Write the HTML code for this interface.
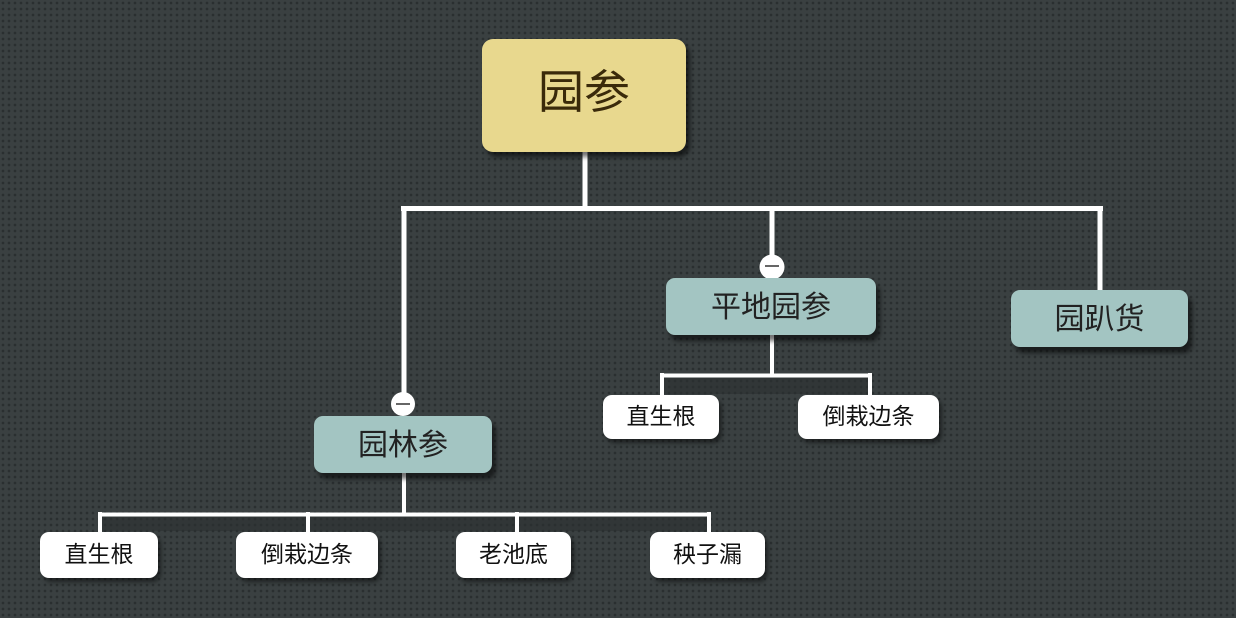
<!DOCTYPE html>
<html><head><meta charset="utf-8"><style>
html,body{margin:0;padding:0;}
body{width:1236px;height:618px;overflow:hidden;position:relative;
background-color:#3a4041;
background-image:radial-gradient(circle,#2a2f30 1.1px,transparent 1.6px);
background-size:6px 6px;
font-family:"Liberation Sans","Noto Sans CJK SC",sans-serif;}
.n{position:absolute;display:flex;align-items:center;justify-content:center;box-sizing:border-box;line-height:1;}
.root{background:#e8d88e;border-radius:11px;color:#3a2a0a;font-size:46px;box-shadow:4px 5px 5px rgba(0,0,0,0.55);padding-bottom:8px;}
.mid{background:#a3c5c2;border-radius:9px;color:#222;font-size:30px;box-shadow:4px 6px 5px rgba(0,0,0,0.55);padding-top:3px;}
.leaf{background:#fff;border-radius:9px;color:#111;font-size:23px;box-shadow:3px 4px 4px rgba(0,0,0,0.45);padding-bottom:2px;}
svg{position:absolute;left:0;top:0;}
</style></head><body>
<svg width="1236" height="618">
<rect x="102" y="517" width="605" height="14" fill="#2b3030" opacity="0.6"/>
<rect x="664" y="378" width="204" height="16" fill="#2b3030" opacity="0.6"/>
<g stroke="#fff" fill="none">
<line x1="585" y1="150" x2="585" y2="209" stroke-width="5"/>
<line x1="401" y1="208.5" x2="1103" y2="208.5" stroke-width="5"/>
<line x1="404" y1="206" x2="404" y2="394" stroke-width="5"/>
<line x1="772" y1="206" x2="772" y2="256" stroke-width="5"/>
<line x1="1100" y1="206" x2="1100" y2="292" stroke-width="5"/>
<line x1="404" y1="470" x2="404" y2="516" stroke-width="4"/>
<line x1="98" y1="514.5" x2="711" y2="514.5" stroke-width="4"/>
<line x1="100" y1="512" x2="100" y2="534" stroke-width="4"/>
<line x1="308" y1="512" x2="308" y2="534" stroke-width="4"/>
<line x1="517" y1="512" x2="517" y2="534" stroke-width="4"/>
<line x1="709" y1="512" x2="709" y2="534" stroke-width="4"/>
<line x1="772" y1="333" x2="772" y2="377" stroke-width="4"/>
<line x1="660" y1="375.5" x2="872" y2="375.5" stroke-width="4"/>
<line x1="662" y1="373" x2="662" y2="397" stroke-width="4"/>
<line x1="870" y1="373" x2="870" y2="397" stroke-width="4"/>
</g>
<circle cx="403" cy="404" r="12" fill="#fff"/>
<line x1="396" y1="404" x2="410" y2="404" stroke="#333" stroke-width="1.5"/>
<circle cx="772" cy="267" r="12.5" fill="#fff"/>
<line x1="765" y1="266" x2="779" y2="266" stroke="#333" stroke-width="1.5"/>
</svg>
<div class="n root" style="left:482px;top:39px;width:204px;height:113px;">园参</div>
<div class="n mid" style="left:314px;top:416px;width:178px;height:57px;">园林参</div>
<div class="n mid" style="left:666px;top:278px;width:210px;height:57px;">平地园参</div>
<div class="n mid" style="left:1011px;top:290px;width:177px;height:57px;">园趴货</div>
<div class="n leaf" style="left:603px;top:395px;width:116px;height:44px;">直生根</div>
<div class="n leaf" style="left:798px;top:395px;width:141px;height:44px;">倒栽边条</div>
<div class="n leaf" style="left:40px;top:532px;width:118px;height:46px;">直生根</div>
<div class="n leaf" style="left:236px;top:532px;width:142px;height:46px;">倒栽边条</div>
<div class="n leaf" style="left:456px;top:532px;width:115px;height:46px;">老池底</div>
<div class="n leaf" style="left:650px;top:532px;width:115px;height:46px;">秧子漏</div>
</body></html>
